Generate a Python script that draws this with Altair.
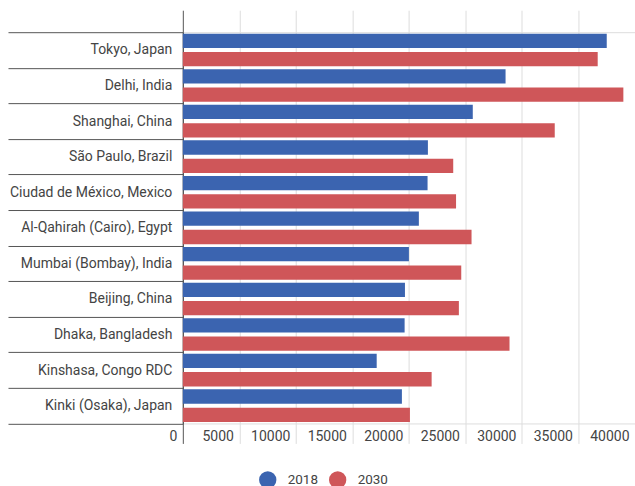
import altair as alt
import pandas as pd

# Urban agglomerations, population in thousands
cities = [
    "Tokyo, Japan",
    "Delhi, India",
    "Shanghai, China",
    "São Paulo, Brazil",
    "Ciudad de México, Mexico",
    "Al-Qahirah (Cairo), Egypt",
    "Mumbai (Bombay), India",
    "Beijing, China",
    "Dhaka, Bangladesh",
    "Kinshasa, Congo RDC",
    "Kinki (Osaka), Japan",
]
pop_2018 = [37500, 28550, 25650, 21680, 21650, 20880, 20000, 19650, 19620, 17150, 19380]
pop_2030 = [36700, 38970, 32900, 23920, 24170, 25540, 24630, 24420, 28900, 22010, 20090]
years = ["2018", "2030"]
tick_values = [0, 5000, 10000, 15000, 20000, 25000, 30000, 35000, 40000]

rows = []
for city, a, b in zip(cities, pop_2018, pop_2030):
    rows.append({"city": city, "year": years[0], "pop": a})
    rows.append({"city": city, "year": years[1], "pop": b})
df = pd.DataFrame(rows)

BLUE = "#3b64b0"
RED = "#cf5659"
DARK = "#555555"
LIGHT = "#dddddd"
TEXT = "#444444"
FONT = "Roboto"

x_scale = alt.Scale(domain=[0, 40000], nice=False, zero=True)
zero_dark = {"condition": {"test": "datum.value === 0", "value": DARK}, "value": LIGHT}

bars = alt.Chart(df).mark_bar().encode(
    x=alt.X(
        "pop:Q",
        scale=x_scale,
        title=None,
        axis=alt.Axis(
            orient="bottom",
            values=tick_values,
            format="d",
            domain=False,
            grid=True,
            gridColor=zero_dark,
            ticks=True,
            tickSize=20,
            tickColor=zero_dark,
            labelAlign="right",
            labelBaseline="middle",
            labelPadding=-7,
            labelOffset=-6,
            labelFlush=False,
            labelOverlap=False,
            labelFontSize=14,
            labelColor=TEXT,
            labelFont=FONT,
        ),
    ),
    y=alt.Y(
        "city:N",
        sort=cities,
        title=None,
        scale=alt.Scale(paddingInner=0, paddingOuter=0),
        axis=alt.Axis(
            orient="left",
            domain=True,
            domainColor=DARK,
            ticks=True,
            tickBand="extent",
            tickSize=175,
            tickColor=DARK,
            grid=False,
            labelPadding=-164,
            labelAlign="right",
            labelFontSize=14,
            labelColor=TEXT,
            labelFont=FONT,
            labelLimit=220,
        ),
    ),
    yOffset=alt.YOffset("year:N", sort=years, scale=alt.Scale(paddingInner=0.22, paddingOuter=0.08)),
    color=alt.Color(
        "year:N",
        sort=years,
        scale=alt.Scale(domain=years, range=[BLUE, RED]),
        legend=alt.Legend(
            title=None,
            orient="none",
            legendX=76,
            legendY=439,
            direction="horizontal",
            symbolType="circle",
            symbolSize=300,
            symbolStrokeWidth=0,
            symbolOpacity=1,
            labelFontSize=13.5,
            labelColor=TEXT,
            labelFont=FONT,
            labelOffset=11,
            columnPadding=10,
        ),
    ),
)

# Tick extensions above the plot, continuing the vertical grid
top_ticks = alt.Chart(df).mark_rule(opacity=0).encode(
    x=alt.X(
        "pop:Q",
        scale=x_scale,
        title=None,
        axis=alt.Axis(
            orient="top",
            values=tick_values,
            labels=False,
            domain=False,
            grid=False,
            ticks=True,
            tickSize=22,
            tickColor=zero_dark,
        ),
    ),
)

chart = (
    alt.layer(bars, top_ticks)
    .resolve_axis(x="independent")
    .properties(
        width=452.6,
        height=391.6,
        autosize=alt.AutoSizeParams(type="none"),
        padding={"left": 183, "top": 32, "right": 0, "bottom": 62},
    )
    .configure_view(stroke=None)
    .configure(font=FONT, background="white")
)

chart.save("out.html", embed_options={"renderer": "svg", "actions": False})
